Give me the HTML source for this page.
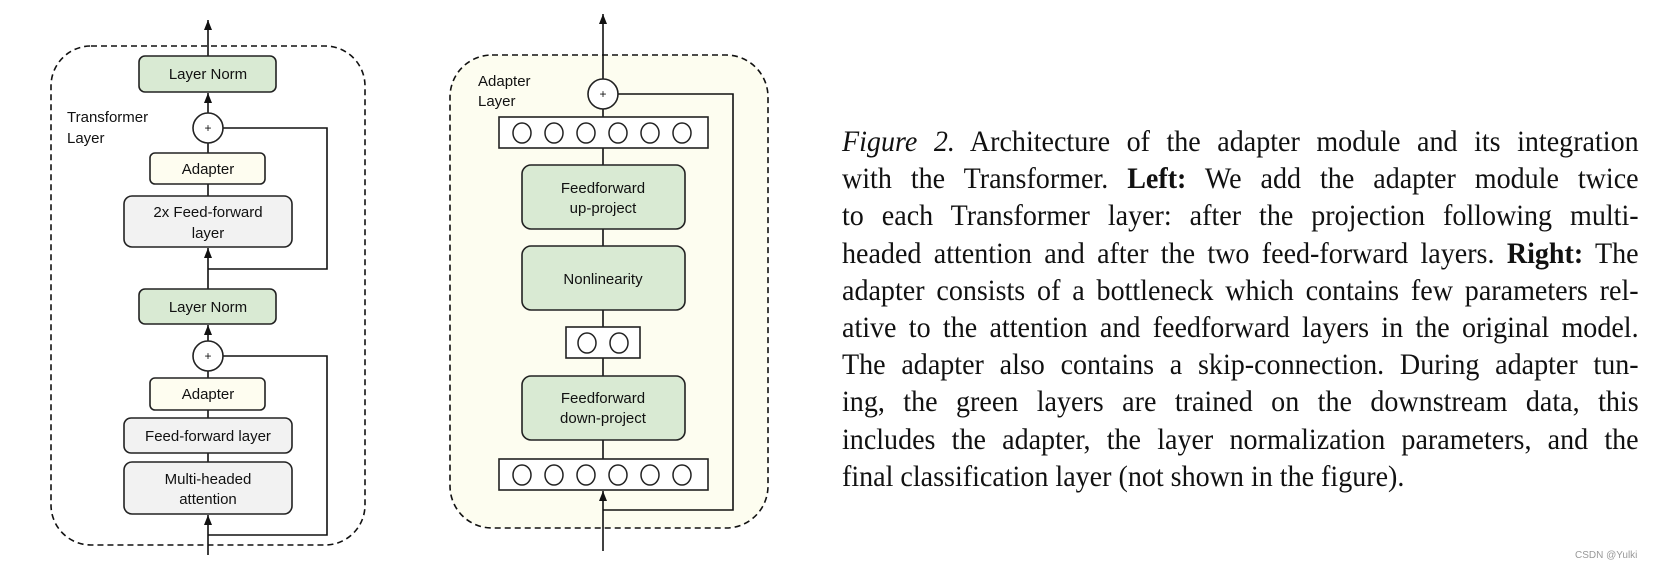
<!DOCTYPE html>
<html><head><meta charset="utf-8"><style>
body{margin:0;width:1668px;height:575px;background:#fff;position:relative;overflow:hidden}
svg{position:absolute;left:0;top:0}
.cap{position:absolute;left:842px;top:123px;width:852px;transform:scaleX(0.935);transform-origin:0 0;font-family:"Liberation Serif",serif;font-size:30px;line-height:37.2px;color:#111}
.cap div{text-align:justify;text-align-last:justify;white-space:nowrap;height:37.2px}
.cap div.l{text-align-last:left}
.wm{position:absolute;left:1575px;top:550px;font-family:"Liberation Sans",sans-serif;font-size:10px;color:#999}
text{font-family:"Liberation Sans",sans-serif;font-size:15px;fill:#111}
</style></head><body>
<svg width="1668" height="575" viewBox="0 0 1668 575">
<defs><marker id="a" markerWidth="12" markerHeight="10" refX="10" refY="5" orient="auto" markerUnits="userSpaceOnUse"><path d="M0,1 L10,5 L0,9 Z" fill="#111"/></marker></defs>
<g stroke="#111" stroke-width="1.6" fill="none">
<rect x="51" y="46" width="314" height="499" rx="40" stroke-dasharray="6,4"/>
<line x1="208" y1="56" x2="208" y2="20" marker-end="url(#a)"/>
<line x1="208" y1="113" x2="208" y2="93" marker-end="url(#a)"/>
<line x1="208" y1="153" x2="208" y2="143"/>
<line x1="208" y1="196" x2="208" y2="184"/>
<line x1="208" y1="289" x2="208" y2="248" marker-end="url(#a)"/>
<polyline points="223,128 327,128 327,269 208,269"/>
<line x1="208" y1="341" x2="208" y2="325" marker-end="url(#a)"/>
<line x1="208" y1="378" x2="208" y2="371"/>
<line x1="208" y1="418" x2="208" y2="410"/>
<line x1="208" y1="462" x2="208" y2="453"/>
<line x1="208" y1="555" x2="208" y2="515" marker-end="url(#a)"/>
<polyline points="223,356 327,356 327,535 208,535"/>
<rect x="450" y="55" width="318" height="473" rx="42" stroke-dasharray="6,4" fill="#fdfdf0"/>
<line x1="603" y1="79" x2="603" y2="14" marker-end="url(#a)"/>
<line x1="603" y1="117" x2="603" y2="109"/>
<line x1="603" y1="165" x2="603" y2="148"/>
<line x1="603" y1="246" x2="603" y2="229"/>
<line x1="603" y1="327" x2="603" y2="310"/>
<line x1="603" y1="376" x2="603" y2="358"/>
<line x1="603" y1="459" x2="603" y2="440"/>
<line x1="603" y1="551" x2="603" y2="491" marker-end="url(#a)"/>
<polyline points="618,94 733,94 733,510 603,510"/>
</g>
<g stroke="#222" stroke-width="1.6">
<rect x="139" y="56" width="137" height="36" rx="6" fill="#d9ead3"/>
<circle cx="208" cy="128" r="15" fill="#fff"/>
<rect x="150" y="153" width="115" height="31" rx="5" fill="#fefdf0"/>
<rect x="124" y="196" width="168" height="51" rx="8" fill="#f2f2f2"/>
<rect x="139" y="289" width="137" height="35" rx="6" fill="#d9ead3"/>
<circle cx="208" cy="356" r="15" fill="#fff"/>
<rect x="150" y="378" width="115" height="32" rx="5" fill="#fefdf0"/>
<rect x="124" y="418" width="168" height="35" rx="7" fill="#f2f2f2"/>
<rect x="124" y="462" width="168" height="52" rx="8" fill="#f2f2f2"/>
<circle cx="603" cy="94" r="15" fill="#fff"/>
<rect x="499" y="117" width="209" height="31" fill="#fff"/>
<rect x="522" y="165" width="163" height="64" rx="9" fill="#d9ead3"/>
<rect x="522" y="246" width="163" height="64" rx="9" fill="#d9ead3"/>
<rect x="566" y="327" width="74" height="31" fill="#fff"/>
<rect x="522" y="376" width="163" height="64" rx="9" fill="#d9ead3"/>
<rect x="499" y="459" width="209" height="31" fill="#fff"/>
</g>
<g stroke="#222" stroke-width="1.5" fill="#fff">
<ellipse cx="522" cy="133" rx="9" ry="10"/><ellipse cx="554" cy="133" rx="9" ry="10"/><ellipse cx="586" cy="133" rx="9" ry="10"/><ellipse cx="618" cy="133" rx="9" ry="10"/><ellipse cx="650" cy="133" rx="9" ry="10"/><ellipse cx="682" cy="133" rx="9" ry="10"/>
<ellipse cx="587" cy="343" rx="9" ry="10"/><ellipse cx="619" cy="343" rx="9" ry="10"/>
<ellipse cx="522" cy="475" rx="9" ry="10"/><ellipse cx="554" cy="475" rx="9" ry="10"/><ellipse cx="586" cy="475" rx="9" ry="10"/><ellipse cx="618" cy="475" rx="9" ry="10"/><ellipse cx="650" cy="475" rx="9" ry="10"/><ellipse cx="682" cy="475" rx="9" ry="10"/>
</g>
<g text-anchor="middle">
<text x="208" y="79">Layer Norm</text>
<text x="208" y="132" style="font-size:12px">+</text>
<text x="208" y="174">Adapter</text>
<text x="208" y="217">2x Feed-forward</text>
<text x="208" y="238">layer</text>
<text x="208" y="312">Layer Norm</text>
<text x="208" y="360" style="font-size:12px">+</text>
<text x="208" y="399">Adapter</text>
<text x="208" y="441">Feed-forward layer</text>
<text x="208" y="484">Multi-headed</text>
<text x="208" y="504">attention</text>
<text x="603" y="98" style="font-size:12px">+</text>
<text x="603" y="193">Feedforward</text>
<text x="603" y="213">up-project</text>
<text x="603" y="284">Nonlinearity</text>
<text x="603" y="403">Feedforward</text>
<text x="603" y="423">down-project</text>
</g>
<text x="67" y="122">Transformer</text>
<text x="67" y="143">Layer</text>
<text x="478" y="86">Adapter</text>
<text x="478" y="106">Layer</text>
</svg>
<div class="cap">
<div><i>Figure 2.</i> Architecture of the adapter module and its integration</div>
<div>with the Transformer. <b>Left:</b> We add the adapter module twice</div>
<div>to each Transformer layer: after the projection following multi-</div>
<div>headed attention and after the two feed-forward layers. <b>Right:</b> The</div>
<div>adapter consists of a bottleneck which contains few parameters rel-</div>
<div>ative to the attention and feedforward layers in the original model.</div>
<div>The adapter also contains a skip-connection. During adapter tun-</div>
<div>ing, the green layers are trained on the downstream data, this</div>
<div>includes the adapter, the layer normalization parameters, and the</div>
<div class="l">final classification layer (not shown in the figure).</div>
</div>
<div class="wm">CSDN @Yulki</div>
</body></html>
